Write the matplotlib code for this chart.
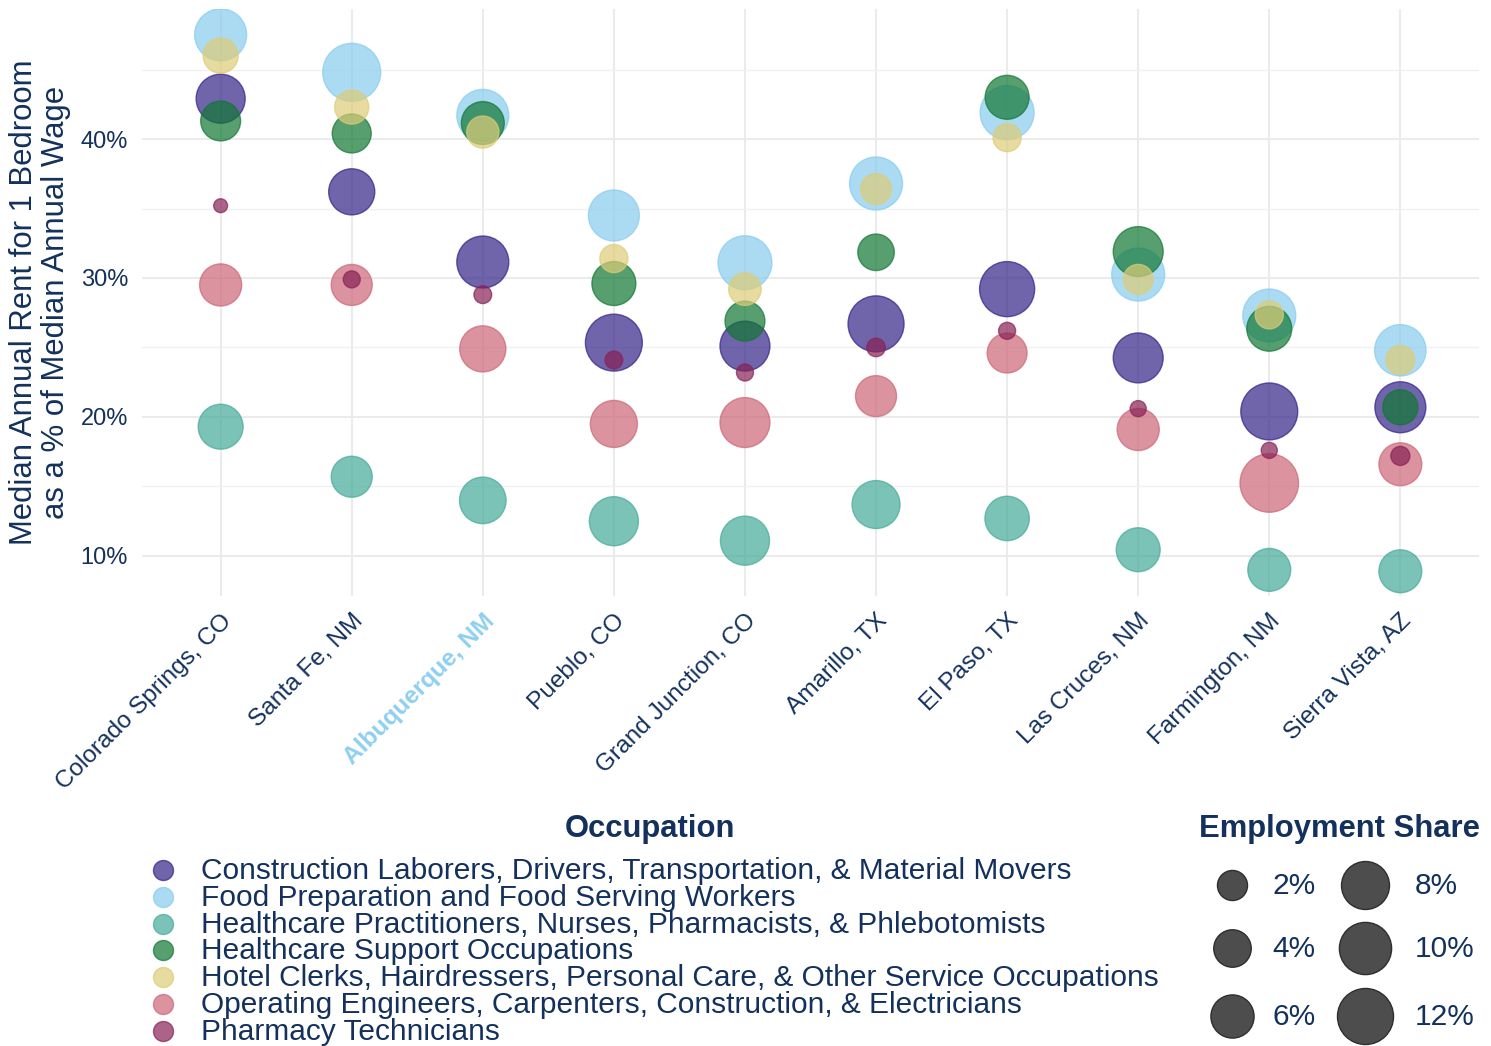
import numpy as np
import matplotlib.pyplot as plt
from matplotlib.ticker import FuncFormatter, MultipleLocator

plt.rcParams['font.family'] = ['Liberation Sans', 'DejaVu Sans']

NAVY = "#13315C"

cities = ["Colorado Springs, CO", "Santa Fe, NM", "Albuquerque, NM", "Pueblo, CO",
          "Grand Junction, CO", "Amarillo, TX", "El Paso, TX", "Las Cruces, NM",
          "Farmington, NM", "Sierra Vista, AZ"]

occupations = ["Construction Laborers, Drivers, Transportation, & Material Movers",
               "Food Preparation and Food Serving Workers",
               "Healthcare Practitioners, Nurses, Pharmacists, & Phlebotomists",
               "Healthcare Support Occupations",
               "Hotel Clerks, Hairdressers, Personal Care, & Other Service Occupations",
               "Operating Engineers, Carpenters, Construction, & Electricians",
               "Pharmacy Technicians"]
colors = ["#332288", "#88CCEE", "#44AA99", "#117733", "#DDCC77", "#CC6677", "#882255"]

# rent as % of wage, one list per occupation (same order as cities)
rent_construction = [42.9, 36.2, 31.15, 25.35, 25.1, 26.7, 29.2, 24.25, 20.4, 20.7]
rent_food = [47.5, 44.8, 41.7, 34.5, 31.1, 36.8, 41.9, 30.25, 27.3, 24.8]
rent_practitioners = [19.3, 15.7, 14.0, 12.5, 11.1, 13.7, 12.7, 10.45, 9.0, 8.9]
rent_hc_support = [41.3, 40.4, 41.15, 29.6, 26.9, 31.85, 43.0, 31.9, 26.35, 20.7]
rent_hotel = [46.0, 42.3, 40.5, 31.4, 29.2, 36.4, 40.1, 29.9, 27.35, 24.1]
rent_operating = [29.5, 29.5, 24.9, 19.5, 19.6, 21.5, 24.6, 19.1, 15.25, 16.6]
rent_pharmacy = [35.2, 29.9, 28.8, 24.1, 23.2, 25.0, 26.2, 20.6, 17.6, 17.2]

# employment share (%), same layout
share_construction = [8.5, 7.2, 9.9, 12.5, 8.9, 12.0, 11.5, 8.9, 12.5, 9.4]
share_food = [9.9, 13.1, 9.9, 9.4, 10.9, 10.4, 10.9, 10.4, 10.4, 9.6]
share_practitioners = [6.7, 5.2, 7.4, 8.5, 8.5, 8.0, 6.5, 6.3, 5.9, 5.9]
share_hc_support = [4.8, 4.5, 5.9, 6.3, 4.8, 3.7, 6.3, 8.9, 6.7, 3.3]
share_hotel = [3.3, 3.0, 2.5, 1.6, 2.6, 2.2, 1.6, 2.0, 1.6, 1.8]
share_operating = [5.6, 5.2, 7.2, 7.6, 8.9, 5.2, 4.8, 5.6, 13.4, 5.9]
share_pharmacy = [0.02, 0.15, 0.2, 0.2, 0.15, 0.25, 0.15, 0.1, 0.1, 0.3]

legend_shares = [2, 4, 6, 8, 10, 12]

rents = [rent_construction, rent_food, rent_practitioners, rent_hc_support,
         rent_hotel, rent_operating, rent_pharmacy]
shares = [share_construction, share_food, share_practitioners, share_hc_support,
          share_hotel, share_operating, share_pharmacy]


def size_pts(share):
    # diameter in px (sqrt area scale), then marker area in pt^2 at 100 dpi
    d = 12.1 + 12.68 * np.sqrt(np.asarray(share, dtype=float))
    return (d * 0.72) ** 2


fig = plt.figure(figsize=(14.91, 10.46), dpi=100)
W, H = 1491, 1046
ax = fig.add_axes([142 / W, 1 - 596 / H, (1479 - 142) / W, (596 - 8.5) / H])

# one scatter, biggest bubbles first so small ones sit on top
xs, ys, ss, cs = [], [], [], []
for k in range(len(occupations)):
    for i in range(len(cities)):
        xs.append(i)
        ys.append(rents[k][i])
        ss.append(shares[k][i])
        cs.append(colors[k])
order = np.argsort(-np.array(ss), kind="stable")
xs = np.array(xs)[order]
ys = np.array(ys)[order]
cs = [cs[j] for j in order]
sz = size_pts(np.array(ss)[order])
ax.scatter(xs, ys, s=sz, c=cs, alpha=0.7, edgecolors=cs, linewidths=1.0, zorder=3)

ax.set_xlim(-0.6, len(cities) - 0.4)
ax.set_ylim(7.12, 49.39)
ax.set_xticks(range(len(cities)))
ax.set_xticklabels(cities, rotation=45, ha="right", va="top", rotation_mode="anchor",
                   fontsize=17.6, color=NAVY)
for lab in ax.get_xticklabels():
    if lab.get_text().startswith("Albuquerque"):
        lab.set_color("#8FCFEF")
        lab.set_fontweight("bold")
ax.set_yticks([10, 20, 30, 40])
ax.yaxis.set_minor_locator(MultipleLocator(5))
ax.yaxis.set_major_formatter(FuncFormatter(lambda v, p: f"{v:.0f}%"))
ax.tick_params(axis="y", labelsize=17, labelcolor=NAVY, length=0, pad=10)
ax.tick_params(axis="x", length=0, pad=10)
ax.tick_params(which="minor", length=0)
ax.grid(True, which="major", color="#EBEBEB", linewidth=1.5, zorder=0)
ax.grid(True, which="minor", axis="y", color="#F0F0F0", linewidth=1.0, zorder=0)
ax.set_axisbelow(True)
for sp in ax.spines.values():
    sp.set_visible(False)

fig.text(40 / W, 1 - 302 / H, "Median Annual Rent for 1 Bedroom\nas a % of Median Annual Wage",
         rotation=90, ha="center", va="center", multialignment="center",
         fontsize=22.4, color=NAVY, linespacing=1.05)

# legends drawn in an overlay axes using pixel coordinates
lax = fig.add_axes([0, 0, 1, 1])
lax.set_xlim(0, W)
lax.set_ylim(H, 0)
lax.axis("off")

lax.text(650, 829, "Occupation", ha="center", va="center", fontsize=22.3,
         fontweight="bold", color=NAVY)
for k, occ in enumerate(occupations):
    y = 870 + k * 26.8
    lax.scatter([163], [y], s=(20 * 0.72) ** 2, color=colors[k], alpha=0.7,
                edgecolors=colors[k], linewidths=1.0)
    lax.text(201, y + 1, occ, ha="left", va="center", fontsize=21.5, color=NAVY)

lax.text(1339, 829, "Employment Share", ha="center", va="center", fontsize=22.3,
         fontweight="bold", color=NAVY)
row_y = [885, 948, 1016]
for j, v in enumerate(legend_shares):
    col, row = divmod(j, 3)
    cx = [1232, 1365][col]
    tx = [1272, 1415][col]
    lax.scatter([cx], [row_y[row]], s=size_pts(v), color="#4D4D4D",
                edgecolors="#2E2E2E", linewidths=1.0)
    lax.text(tx, row_y[row] + 1, f"{v}%", ha="left", va="center", fontsize=21.5, color=NAVY)

fig.savefig("out.png", dpi=100)
